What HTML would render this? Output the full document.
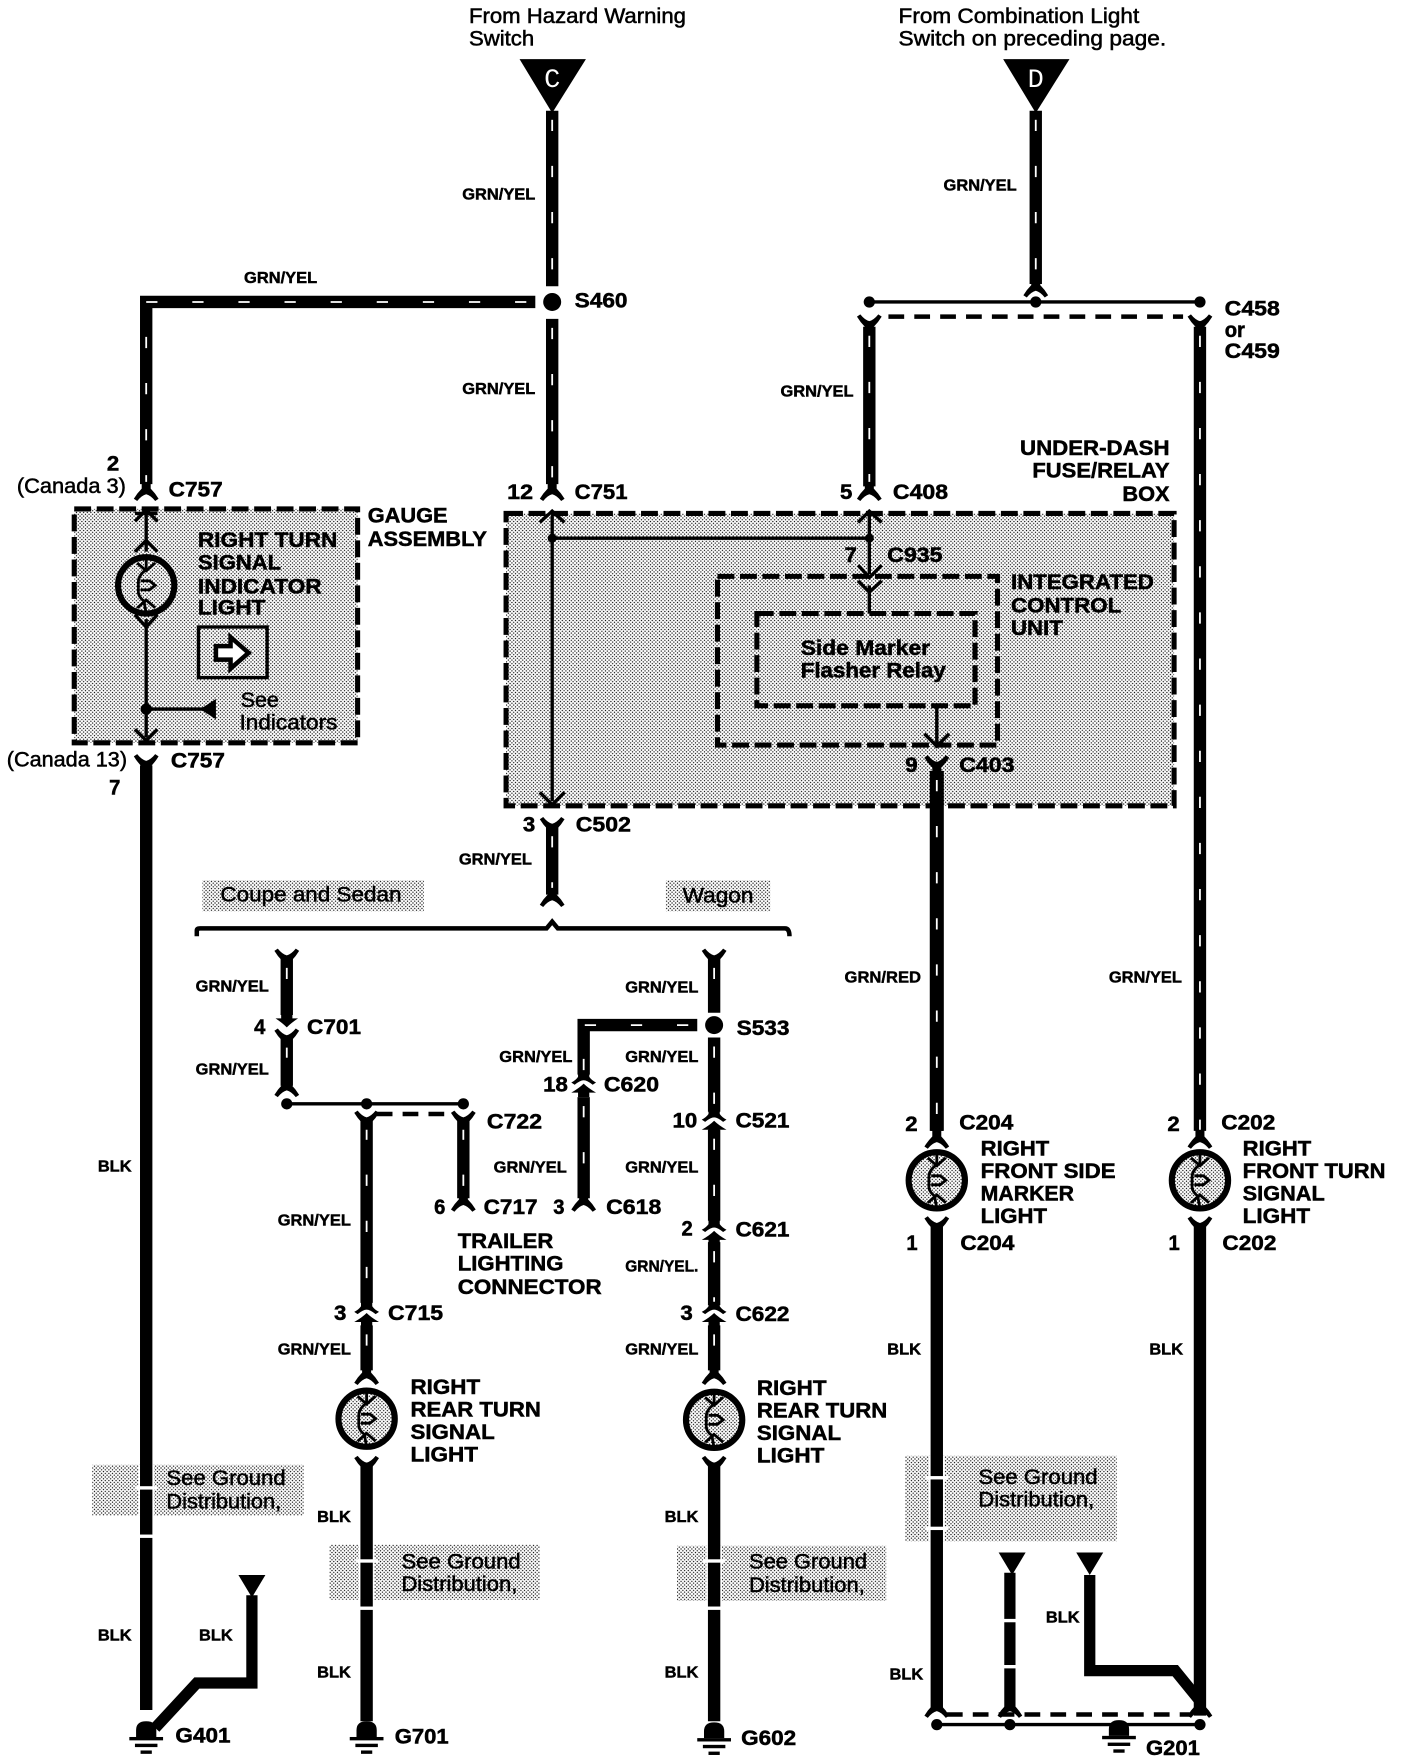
<!DOCTYPE html>
<html><head><meta charset="utf-8"><style>
html,body{margin:0;padding:0;background:#fff}
svg{display:block}
text{font-family:"Liberation Sans",sans-serif;fill:#000}
.b{font-size:19px;font-weight:bold;stroke:#000;stroke-width:.45}
.s{font-size:14px;font-weight:bold;stroke:#000;stroke-width:.4}
.r{font-size:18.5px;stroke:#000;stroke-width:.45}
.t{fill:none;stroke:#000;stroke-width:3}
.d{fill:none;stroke:#000;stroke-width:4.5;stroke-dasharray:15 5}
.n{fill:none;stroke:#000;stroke-width:4;stroke-dasharray:14 9}
</style></head><body>
<svg xmlns="http://www.w3.org/2000/svg" width="1408" height="1764" viewBox="0 -0.5 1252 1568.5">
<defs>
<pattern id="st" patternUnits="userSpaceOnUse" width="3.2" height="3.2"><rect width="3.2" height="3.2" fill="#fff"/><circle cx=".8" cy=".8" r=".6" fill="#000"/><circle cx="2.4" cy="2.4" r=".6" fill="#000"/></pattern>
<path id="fd" d="M-11 7Q-8 2 -4 -2L-4 -8L4 -8L4 -2Q8 2 11 7L8 9Q4 4 0 3Q-4 4 -8 9Z"/>
<path id="fu" d="M-11 -7Q-8 -2 -4 2L-4 8L4 8L4 2Q8 -2 11 -7L8 -9Q4 -4 0 -3Q-4 -4 -8 -9Z"/>
<path id="cx" d="M-5 -10L-5 -6Q-7 -3 -11 -1L-8 1Q-3 -3 0 -3Q3 -3 8 1L11 -1Q7 -3 5 -6L5 -10ZM-11 8Q-4 4 0 0Q4 4 11 8L5 8L5 12L-5 12L-5 8Z"/>
<path id="ar" d="M-5 -14V-8H-10Q-4 -4 0 0Q4 -4 10 -8H5V-14Z"/>
<g id="bulb"><circle r="25" fill="url(#st)" stroke="#000" stroke-width="5.5"/>
<path d="M0 -25V-14Q-7 -9 -7 -3V6Q-7 10 -2 14L0 25M-8 -20L0 -13L8 -20M-8 20L0 13L8 20" fill="none" stroke="#000" stroke-width="2.5"/>
<path d="M-5 -4H3L8 0L3 4H-5" fill="none" stroke="#000" stroke-width="2.5"/></g>
<g id="gnd"><path d="M-9 0V-6Q-9 -14 0 -14Q9 -14 9 -6V0Z"/><rect x="-15" y="0" width="30" height="3"/><rect x="-10" y="6" width="20" height="3"/><rect x="-5" y="12" width="10" height="3"/></g>
<g id="gw" fill="none">
<path d="M491 98V254"/><path d="M476 268H130V430"/><path d="M491 283V430"/>
<path d="M921 98V252"/><path d="M773 290V432"/><path d="M1067 290V1005"/>
<path d="M833 685V1005"/><path d="M491 735V795"/>
<path d="M255 852V902"/><path d="M255 922V965"/><path d="M326 995V1158"/><path d="M326 1178V1218"/>
<path d="M412 995V1065"/><path d="M620 911H519V955"/><path d="M519 975V1065"/>
<path d="M635 852V900"/><path d="M635 922V988"/><path d="M635 1004V1085"/><path d="M635 1104V1160"/><path d="M635 1178V1218"/>
</g>
</defs>
<rect y="-1" width="1252" height="1571" fill="#fff"/>

<!-- stipple areas -->
<rect x="66" y="452" width="252" height="208" fill="url(#st)"/>
<rect x="450" y="456" width="594" height="260" fill="url(#st)"/>
<rect x="180" y="782" width="197" height="28" fill="url(#st)"/>
<rect x="592" y="782" width="93" height="28" fill="url(#st)"/>
<rect x="82" y="1302" width="188" height="45" fill="url(#st)"/>
<rect x="293" y="1373" width="187" height="49" fill="url(#st)"/>
<rect x="602" y="1374" width="186" height="49" fill="url(#st)"/>
<rect x="805" y="1294" width="188" height="76" fill="url(#st)"/>
<rect x="123" y="1302" width="14" height="45" fill="#fff"/>
<rect x="319" y="1373" width="14" height="49" fill="#fff"/>
<rect x="628" y="1374" width="14" height="49" fill="#fff"/>
<rect x="826" y="1294" width="14" height="76" fill="#fff"/>

<!-- dashed boxes -->
<rect x="66" y="452" width="252" height="208" class="d"/>
<rect x="450" y="456" width="594" height="260" class="d"/>
<rect x="638" y="512" width="249" height="150" class="d"/>
<rect x="673" y="545" width="194" height="82" class="d"/>

<!-- wires -->
<path d="M833 685V1005" fill="none" stroke="#000" stroke-width="12.500"/>
<use href="#gw" stroke="#000" stroke-width="11"/>
<use href="#gw" stroke="#fff" stroke-width="1.6" stroke-dasharray="10 31" stroke-dashoffset="-8"/>
<path d="M130 680V1520M326 1300V1530M635 1300V1530M833 1090V1520M1067 1090V1525" fill="none" stroke="#000" stroke-width="11"/>
<path d="M224 1418V1496H175L138 1536" fill="none" stroke="#000" stroke-width="10"/>
<path d="M898 1398V1518" fill="none" stroke="#000" stroke-width="10"/>
<path d="M969 1400V1485H1045L1067 1512" fill="none" stroke="#000" stroke-width="10"/>
<!-- wire gaps -->
<g fill="#fff"><rect x="120" y="1321" width="20" height="3"/><rect x="120" y="1364" width="20" height="3"/>
<rect x="316" y="1386" width="20" height="3"/><rect x="316" y="1428" width="20" height="3"/>
<rect x="625" y="1386" width="20" height="3"/><rect x="625" y="1428" width="20" height="3"/>
<rect x="823" y="1312" width="20" height="3"/><rect x="823" y="1357" width="20" height="3"/>
<rect x="888" y="1439" width="20" height="3"/><rect x="888" y="1480" width="20" height="3"/></g>

<!-- triangles -->
<path d="M462 52H521L491 100Z"/><path d="M892 52H951L921 100Z"/>
<path d="M212 1400H236L224 1420Z"/><path d="M888 1380H912L900 1400Z"/><path d="M957 1380H981L969 1400Z"/>
<text x="491" y="77" font-size="24" text-anchor="middle" style="fill:#fff;font-family:'Liberation Mono',monospace">C</text>
<text x="921" y="77" font-size="24" text-anchor="middle" style="fill:#fff;font-family:'Liberation Mono',monospace">D</text>

<!-- thin lines & dots -->
<path class="t" d="M773 268H1067M130 455V490M130 550V655M130 630H182M491 458V712M491 478H773M773 458V510M773 520V545M833 627V662M255 981H412M833 1533H1067"/>
<path class="n" d="M790 281H1052M335 990H405M842 1524H1058"/>
<circle cx="491" cy="268" r="8"/><circle cx="635" cy="911" r="8"/>
<g><circle cx="773" cy="268" r="5"/><circle cx="921" cy="268" r="5"/><circle cx="1067" cy="268" r="5"/>
<circle cx="130" cy="630" r="5"/><circle cx="491" cy="478" r="4"/><circle cx="773" cy="478" r="4"/>
<circle cx="255" cy="981" r="5"/><circle cx="326" cy="981" r="5"/><circle cx="412" cy="981" r="5"/>
<circle cx="833" cy="1533" r="5"/><circle cx="898" cy="1533" r="5"/><circle cx="1067" cy="1533" r="5"/></g>
<path d="M192 621V639L178 630Z"/>

<!-- small arrows in boxes -->
<path class="t" d="M120 463L130 453L140 463M120 456H140M120 490L130 480L140 490M120 546L130 557L140 546M120 648L130 658L140 648M480 464L491 454L502 464M763 464L773 454L784 464M763 502L773 513L784 502M763 516L773 526L784 516M822 652L833 663L844 652M480 704L491 715L502 704"/>

<!-- forks -->
<use href="#fd" x="130" y="436"/><use href="#fd" x="491" y="436"/><use href="#fd" x="773" y="436"/>
<use href="#fu" x="130" y="679"/><use href="#fu" x="833" y="680"/><use href="#fu" x="491" y="735"/>
<use href="#fd" x="491" y="797"/><use href="#fu" x="255" y="852"/><use href="#ar" x="255" y="913"/><use href="#fu" x="255" y="923"/><use href="#fd" x="255" y="966"/>
<use href="#fu" x="326" y="996"/><use href="#fu" x="412" y="996"/><use href="#fd" x="412" y="1068"/><use href="#fd" x="519" y="1068"/>
<use href="#cx" x="519" y="963"/>
<use href="#fu" x="635" y="852"/><use href="#cx" x="635" y="996"/>
<use href="#cx" x="635" y="1094"/><use href="#cx" x="635" y="1167"/>
<use href="#cx" x="326" y="1167"/>
<use href="#fd" x="326" y="1222"/><use href="#fd" x="635" y="1222"/><use href="#fu" x="326" y="1303"/><use href="#fu" x="635" y="1303"/>
<use href="#fd" x="921" y="255"/><use href="#fu" x="773" y="288"/><use href="#fu" x="1067" y="288"/>
<use href="#fd" x="833" y="1012"/><use href="#fd" x="1067" y="1012"/><use href="#fu" x="833" y="1090"/><use href="#fu" x="1067" y="1090"/>
<use href="#fd" x="833" y="1518"/><use href="#fd" x="898" y="1518"/><use href="#fd" x="1067" y="1518"/>

<!-- bulbs -->
<use href="#bulb" x="130" y="520"/><use href="#bulb" x="326" y="1261"/><use href="#bulb" x="635" y="1262"/><use href="#bulb" x="833" y="1049"/><use href="#bulb" x="1067" y="1049"/>

<!-- grounds -->
<use href="#gnd" x="130" y="1544"/><use href="#gnd" x="326" y="1544"/><use href="#gnd" x="635" y="1545"/><use href="#gnd" x="995" y="1543"/>

<!-- indicator box -->
<rect x="176.500" y="557" width="61" height="45" fill="none" stroke="#000" stroke-width="3"/>
<path d="M192 574H205V566L221 580L205 594V586H192Z" fill="#fff" stroke="#000" stroke-width="4"/>

<!-- bracket -->
<path d="M175 832V827Q175 825 178 825H486L491 819L496 825H698Q702 825 702 832" fill="none" stroke="#000" stroke-width="4"/>

<!-- text: regular -->
<g>
<text class="r" x="417" y="20" textLength="193" lengthAdjust="spacingAndGlyphs">From Hazard Warning</text>
<text class="r" x="417" y="40" textLength="58" lengthAdjust="spacingAndGlyphs">Switch</text>
<text class="r" x="799" y="20" textLength="214" lengthAdjust="spacingAndGlyphs">From Combination Light</text>
<text class="r" x="799" y="40" textLength="238" lengthAdjust="spacingAndGlyphs">Switch on preceding page.</text>
<text class="r" x="15" y="438" textLength="97" lengthAdjust="spacingAndGlyphs">(Canada 3)</text>
<text class="r" x="6" y="681" textLength="107" lengthAdjust="spacingAndGlyphs">(Canada 13)</text>
<text class="r" x="196" y="801" textLength="161" lengthAdjust="spacingAndGlyphs">Coupe and Sedan</text>
<text class="r" x="607" y="802" textLength="63" lengthAdjust="spacingAndGlyphs">Wagon</text>
<text class="r" x="214" y="628" textLength="34" lengthAdjust="spacingAndGlyphs">See</text>
<text class="r" x="213" y="648" textLength="87" lengthAdjust="spacingAndGlyphs">Indicators</text>
<text class="r" x="148" y="1320" textLength="106" lengthAdjust="spacingAndGlyphs">See Ground</text>
<text class="r" x="148" y="1341" textLength="102" lengthAdjust="spacingAndGlyphs">Distribution,</text>
<text class="r" x="357" y="1394" textLength="106" lengthAdjust="spacingAndGlyphs">See Ground</text>
<text class="r" x="357" y="1414" textLength="103" lengthAdjust="spacingAndGlyphs">Distribution,</text>
<text class="r" x="666" y="1394" textLength="105" lengthAdjust="spacingAndGlyphs">See Ground</text>
<text class="r" x="666" y="1415" textLength="103" lengthAdjust="spacingAndGlyphs">Distribution,</text>
<text class="r" x="870" y="1319" textLength="106" lengthAdjust="spacingAndGlyphs">See Ground</text>
<text class="r" x="870" y="1339" textLength="103" lengthAdjust="spacingAndGlyphs">Distribution,</text>
</g>

<!-- text: bold -->
<g>
<text class="b" x="511" y="273" textLength="47" lengthAdjust="spacingAndGlyphs">S460</text>
<text class="b" x="95" y="418" textLength="11" lengthAdjust="spacingAndGlyphs">2</text>
<text class="b" x="150" y="441" textLength="48" lengthAdjust="spacingAndGlyphs">C757</text>
<text class="b" x="451" y="443" textLength="23" lengthAdjust="spacingAndGlyphs">12</text>
<text class="b" x="511" y="443" textLength="47" lengthAdjust="spacingAndGlyphs">C751</text>
<text class="b" x="747" y="443" textLength="11" lengthAdjust="spacingAndGlyphs">5</text>
<text class="b" x="794" y="443" textLength="49" lengthAdjust="spacingAndGlyphs">C408</text>
<text class="b" x="1089" y="280" textLength="49" lengthAdjust="spacingAndGlyphs">C458</text>
<text class="b" x="1089" y="299" textLength="18" lengthAdjust="spacingAndGlyphs">or</text>
<text class="b" x="1089" y="318" textLength="49" lengthAdjust="spacingAndGlyphs">C459</text>
<text class="b" x="907" y="404" textLength="133" lengthAdjust="spacingAndGlyphs">UNDER-DASH</text>
<text class="b" x="918" y="424" textLength="122" lengthAdjust="spacingAndGlyphs">FUSE/RELAY</text>
<text class="b" x="998" y="445" textLength="42" lengthAdjust="spacingAndGlyphs">BOX</text>
<text class="b" x="327" y="464" textLength="71" lengthAdjust="spacingAndGlyphs">GAUGE</text>
<text class="b" x="327" y="485" textLength="106" lengthAdjust="spacingAndGlyphs">ASSEMBLY</text>
<text class="b" x="176" y="486" textLength="124" lengthAdjust="spacingAndGlyphs">RIGHT TURN</text>
<text class="b" x="176" y="506" textLength="74" lengthAdjust="spacingAndGlyphs">SIGNAL</text>
<text class="b" x="176" y="527" textLength="110" lengthAdjust="spacingAndGlyphs">INDICATOR</text>
<text class="b" x="176" y="546" textLength="60" lengthAdjust="spacingAndGlyphs">LIGHT</text>
<text class="b" x="152" y="682" textLength="48" lengthAdjust="spacingAndGlyphs">C757</text>
<text class="b" x="97" y="706" textLength="10" lengthAdjust="spacingAndGlyphs">7</text>
<text class="b" x="751" y="499" textLength="11" lengthAdjust="spacingAndGlyphs">7</text>
<text class="b" x="789" y="499" textLength="49" lengthAdjust="spacingAndGlyphs">C935</text>
<text class="b" x="899" y="523" textLength="127" lengthAdjust="spacingAndGlyphs">INTEGRATED</text>
<text class="b" x="899" y="544" textLength="98" lengthAdjust="spacingAndGlyphs">CONTROL</text>
<text class="b" x="899" y="564" textLength="46" lengthAdjust="spacingAndGlyphs">UNIT</text>
<text class="b" x="712" y="582" textLength="115" lengthAdjust="spacingAndGlyphs">Side Marker</text>
<text class="b" x="712" y="602" textLength="129" lengthAdjust="spacingAndGlyphs">Flasher Relay</text>
<text class="b" x="805" y="686" textLength="11" lengthAdjust="spacingAndGlyphs">9</text>
<text class="b" x="853" y="686" textLength="49" lengthAdjust="spacingAndGlyphs">C403</text>
<text class="b" x="465" y="739" textLength="11" lengthAdjust="spacingAndGlyphs">3</text>
<text class="b" x="512" y="739" textLength="49" lengthAdjust="spacingAndGlyphs">C502</text>
<text class="b" x="226" y="919" textLength="10" lengthAdjust="spacingAndGlyphs">4</text>
<text class="b" x="273" y="919" textLength="48" lengthAdjust="spacingAndGlyphs">C701</text>
<text class="b" x="655" y="920" textLength="47" lengthAdjust="spacingAndGlyphs">S533</text>
<text class="b" x="483" y="970" textLength="22" lengthAdjust="spacingAndGlyphs">18</text>
<text class="b" x="537" y="970" textLength="49" lengthAdjust="spacingAndGlyphs">C620</text>
<text class="b" x="433" y="1003" textLength="49" lengthAdjust="spacingAndGlyphs">C722</text>
<text class="b" x="598" y="1002" textLength="22" lengthAdjust="spacingAndGlyphs">10</text>
<text class="b" x="654" y="1002" textLength="48" lengthAdjust="spacingAndGlyphs">C521</text>
<text class="b" x="386" y="1079" textLength="10" lengthAdjust="spacingAndGlyphs">6</text>
<text class="b" x="430" y="1079" textLength="48" lengthAdjust="spacingAndGlyphs">C717</text>
<text class="b" x="492" y="1079" textLength="10" lengthAdjust="spacingAndGlyphs">3</text>
<text class="b" x="539" y="1079" textLength="49" lengthAdjust="spacingAndGlyphs">C618</text>
<text class="b" x="606" y="1098" textLength="10" lengthAdjust="spacingAndGlyphs">2</text>
<text class="b" x="654" y="1099" textLength="48" lengthAdjust="spacingAndGlyphs">C621</text>
<text class="b" x="407" y="1109" textLength="85" lengthAdjust="spacingAndGlyphs">TRAILER</text>
<text class="b" x="407" y="1129" textLength="94" lengthAdjust="spacingAndGlyphs">LIGHTING</text>
<text class="b" x="407" y="1150" textLength="128" lengthAdjust="spacingAndGlyphs">CONNECTOR</text>
<text class="b" x="297" y="1173" textLength="11" lengthAdjust="spacingAndGlyphs">3</text>
<text class="b" x="345" y="1173" textLength="49" lengthAdjust="spacingAndGlyphs">C715</text>
<text class="b" x="605" y="1173" textLength="11" lengthAdjust="spacingAndGlyphs">3</text>
<text class="b" x="654" y="1174" textLength="48" lengthAdjust="spacingAndGlyphs">C622</text>
<text class="b" x="365" y="1239" textLength="62" lengthAdjust="spacingAndGlyphs">RIGHT</text>
<text class="b" x="365" y="1259" textLength="116" lengthAdjust="spacingAndGlyphs">REAR TURN</text>
<text class="b" x="365" y="1279" textLength="75" lengthAdjust="spacingAndGlyphs">SIGNAL</text>
<text class="b" x="365" y="1299" textLength="60" lengthAdjust="spacingAndGlyphs">LIGHT</text>
<text class="b" x="673" y="1240" textLength="62" lengthAdjust="spacingAndGlyphs">RIGHT</text>
<text class="b" x="673" y="1260" textLength="116" lengthAdjust="spacingAndGlyphs">REAR TURN</text>
<text class="b" x="673" y="1280" textLength="75" lengthAdjust="spacingAndGlyphs">SIGNAL</text>
<text class="b" x="673" y="1300" textLength="60" lengthAdjust="spacingAndGlyphs">LIGHT</text>
<text class="b" x="805" y="1005" textLength="11" lengthAdjust="spacingAndGlyphs">2</text>
<text class="b" x="853" y="1004" textLength="48" lengthAdjust="spacingAndGlyphs">C204</text>
<text class="b" x="1038" y="1005" textLength="11" lengthAdjust="spacingAndGlyphs">2</text>
<text class="b" x="1086" y="1004" textLength="48" lengthAdjust="spacingAndGlyphs">C202</text>
<text class="b" x="872" y="1027" textLength="61" lengthAdjust="spacingAndGlyphs">RIGHT</text>
<text class="b" x="872" y="1047" textLength="120" lengthAdjust="spacingAndGlyphs">FRONT SIDE</text>
<text class="b" x="872" y="1067" textLength="83" lengthAdjust="spacingAndGlyphs">MARKER</text>
<text class="b" x="872" y="1087" textLength="59" lengthAdjust="spacingAndGlyphs">LIGHT</text>
<text class="b" x="1105" y="1027" textLength="61" lengthAdjust="spacingAndGlyphs">RIGHT</text>
<text class="b" x="1105" y="1047" textLength="127" lengthAdjust="spacingAndGlyphs">FRONT TURN</text>
<text class="b" x="1105" y="1067" textLength="73" lengthAdjust="spacingAndGlyphs">SIGNAL</text>
<text class="b" x="1105" y="1087" textLength="60" lengthAdjust="spacingAndGlyphs">LIGHT</text>
<text class="b" x="806" y="1111" textLength="10" lengthAdjust="spacingAndGlyphs">1</text>
<text class="b" x="854" y="1111" textLength="48" lengthAdjust="spacingAndGlyphs">C204</text>
<text class="b" x="1039" y="1111" textLength="10" lengthAdjust="spacingAndGlyphs">1</text>
<text class="b" x="1087" y="1111" textLength="48" lengthAdjust="spacingAndGlyphs">C202</text>
<text class="b" x="156" y="1549" textLength="49" lengthAdjust="spacingAndGlyphs">G401</text>
<text class="b" x="351" y="1550" textLength="48" lengthAdjust="spacingAndGlyphs">G701</text>
<text class="b" x="659" y="1551" textLength="49" lengthAdjust="spacingAndGlyphs">G602</text>
<text class="b" x="1019" y="1560" textLength="48" lengthAdjust="spacingAndGlyphs">G201</text>
</g>

<!-- text: small wire labels -->
<g>
<text class="s" x="411" y="177" textLength="65" lengthAdjust="spacingAndGlyphs">GRN/YEL</text>
<text class="s" x="217" y="251" textLength="65" lengthAdjust="spacingAndGlyphs">GRN/YEL</text>
<text class="s" x="411" y="350" textLength="65" lengthAdjust="spacingAndGlyphs">GRN/YEL</text>
<text class="s" x="839" y="169" textLength="65" lengthAdjust="spacingAndGlyphs">GRN/YEL</text>
<text class="s" x="694" y="352" textLength="65" lengthAdjust="spacingAndGlyphs">GRN/YEL</text>
<text class="s" x="408" y="768" textLength="65" lengthAdjust="spacingAndGlyphs">GRN/YEL</text>
<text class="s" x="751" y="873" textLength="68" lengthAdjust="spacingAndGlyphs">GRN/RED</text>
<text class="s" x="986" y="873" textLength="65" lengthAdjust="spacingAndGlyphs">GRN/YEL</text>
<text class="s" x="174" y="881" textLength="65" lengthAdjust="spacingAndGlyphs">GRN/YEL</text>
<text class="s" x="174" y="955" textLength="65" lengthAdjust="spacingAndGlyphs">GRN/YEL</text>
<text class="s" x="556" y="882" textLength="65" lengthAdjust="spacingAndGlyphs">GRN/YEL</text>
<text class="s" x="444" y="944" textLength="65" lengthAdjust="spacingAndGlyphs">GRN/YEL</text>
<text class="s" x="556" y="944" textLength="65" lengthAdjust="spacingAndGlyphs">GRN/YEL</text>
<text class="s" x="439" y="1042" textLength="65" lengthAdjust="spacingAndGlyphs">GRN/YEL</text>
<text class="s" x="556" y="1042" textLength="65" lengthAdjust="spacingAndGlyphs">GRN/YEL</text>
<text class="s" x="247" y="1089" textLength="65" lengthAdjust="spacingAndGlyphs">GRN/YEL</text>
<text class="s" x="556" y="1130" textLength="65" lengthAdjust="spacingAndGlyphs">GRN/YEL.</text>
<text class="s" x="247" y="1204" textLength="65" lengthAdjust="spacingAndGlyphs">GRN/YEL</text>
<text class="s" x="556" y="1204" textLength="65" lengthAdjust="spacingAndGlyphs">GRN/YEL</text>
<text class="s" x="87" y="1041" textLength="30" lengthAdjust="spacingAndGlyphs">BLK</text>
<text class="s" x="87" y="1458" textLength="30" lengthAdjust="spacingAndGlyphs">BLK</text>
<text class="s" x="177" y="1458" textLength="30" lengthAdjust="spacingAndGlyphs">BLK</text>
<text class="s" x="282" y="1353" textLength="30" lengthAdjust="spacingAndGlyphs">BLK</text>
<text class="s" x="282" y="1491" textLength="30" lengthAdjust="spacingAndGlyphs">BLK</text>
<text class="s" x="591" y="1353" textLength="30" lengthAdjust="spacingAndGlyphs">BLK</text>
<text class="s" x="591" y="1491" textLength="30" lengthAdjust="spacingAndGlyphs">BLK</text>
<text class="s" x="789" y="1204" textLength="30" lengthAdjust="spacingAndGlyphs">BLK</text>
<text class="s" x="791" y="1493" textLength="30" lengthAdjust="spacingAndGlyphs">BLK</text>
<text class="s" x="1022" y="1204" textLength="30" lengthAdjust="spacingAndGlyphs">BLK</text>
<text class="s" x="930" y="1442" textLength="30" lengthAdjust="spacingAndGlyphs">BLK</text>
</g>
</svg>
</body></html>
